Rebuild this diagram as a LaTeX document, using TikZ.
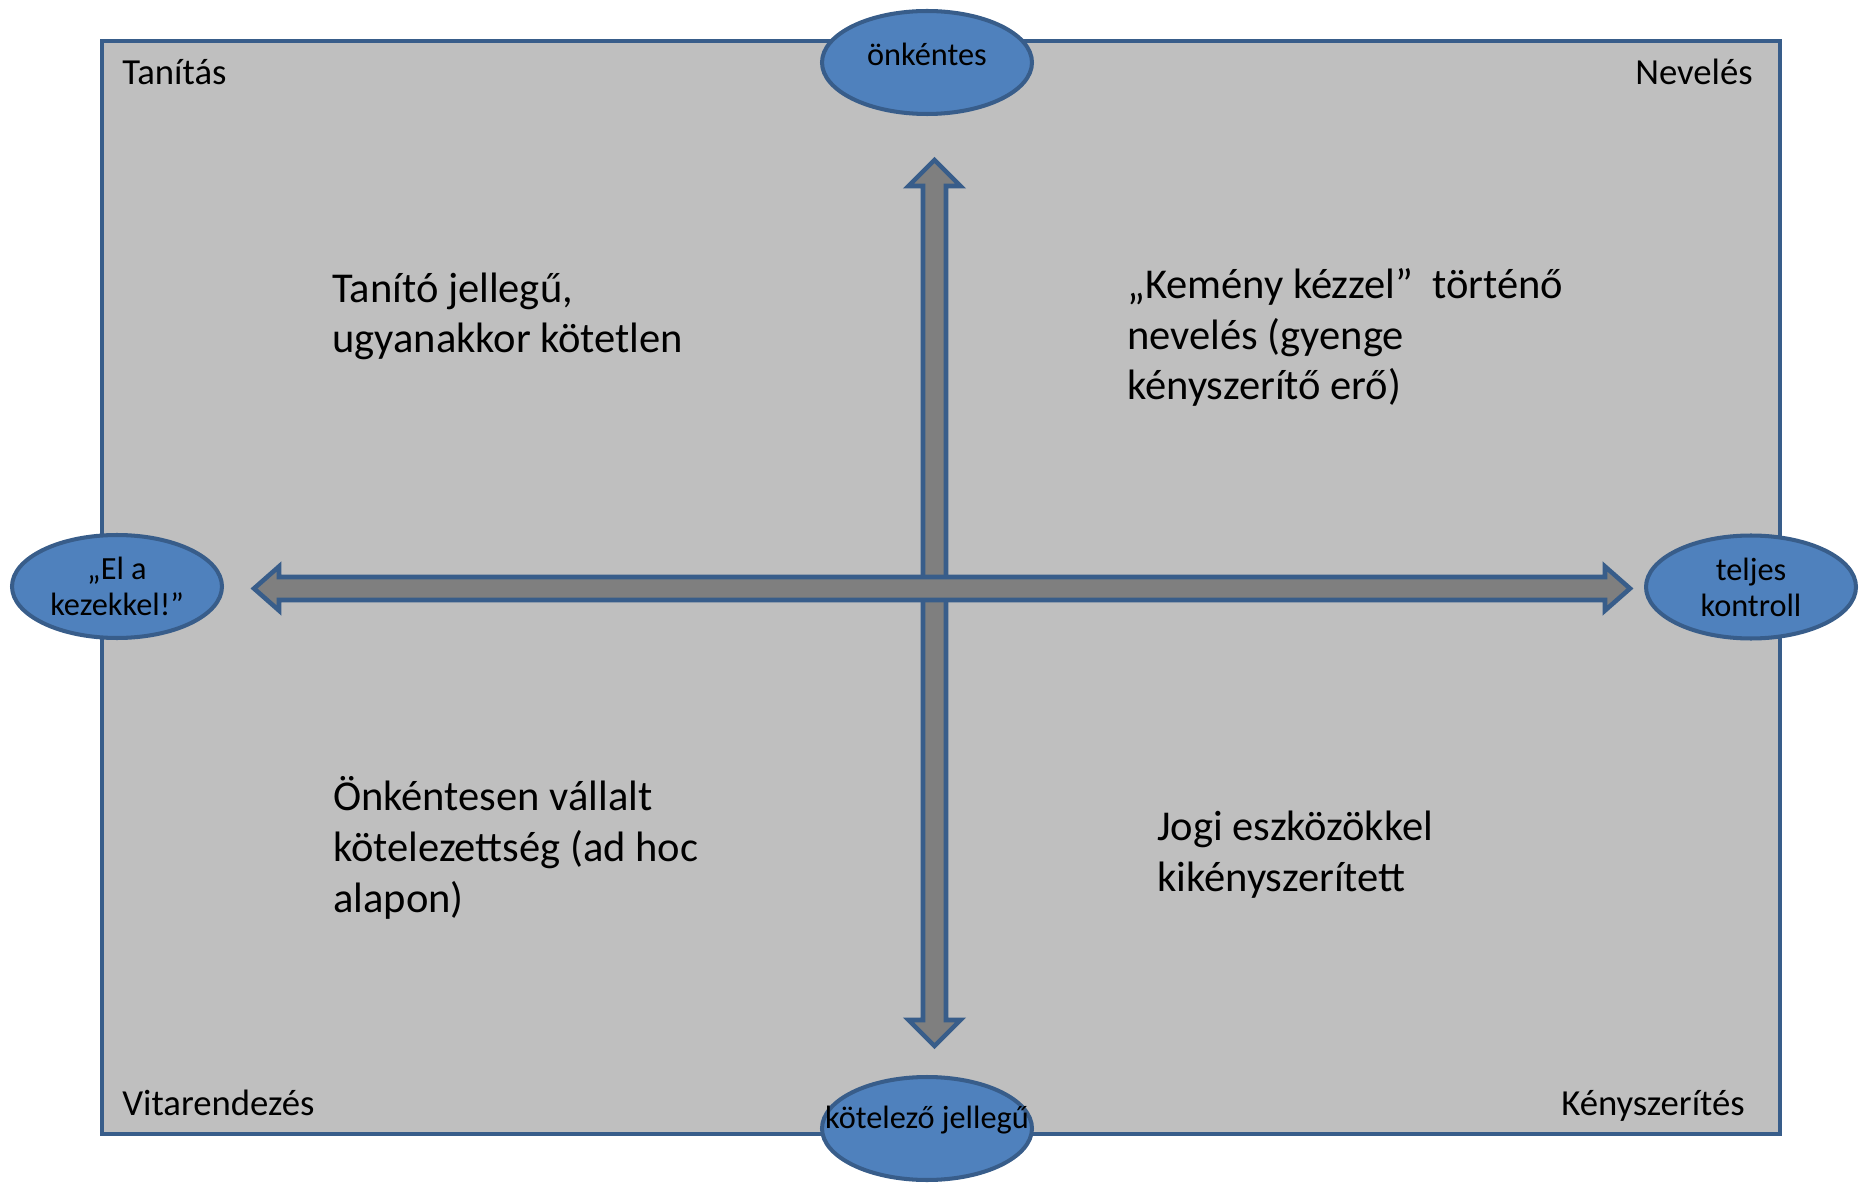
\documentclass[tikz,border=0pt]{standalone}
\usepackage{fontspec}
\setmainfont{Carlito}
\usepackage{tikz}
\usetikzlibrary{shapes.geometric, positioning}
\definecolor{framegray}{RGB}{191,191,191}
\definecolor{edgeblue}{RGB}{56,93,138}
\definecolor{ovalblue}{RGB}{79,129,189}
\definecolor{arrowgray}{RGB}{127,127,127}

\begin{document}
\begin{tikzpicture}[
    x=0.02cm, y=-0.02cm,
    oval/.style={draw=edgeblue, fill=ovalblue, line width=2.3pt, ellipse, minimum width=4.2cm, minimum height=2.06cm, inner sep=0pt},
    ovaltext/.style={font=\fontsize{18.4}{20.5}\selectfont, align=center, inner sep=0pt},
    corner/.style={font=\fontsize{20.9}{25}\selectfont, inner sep=0pt},
    quadtext/.style={font=\fontsize{24.2}{29}\selectfont, align=left, inner sep=0pt, anchor=base west},
    blockarrow/.style={draw=edgeblue, fill=arrowgray, line width=2.6pt, line join=miter}
]
    \useasboundingbox (0,0) rectangle (1874,1189);

    % frame
    \draw[draw=edgeblue, fill=framegray, line width=2.3pt] (102,41) rectangle (1780,1134);

    % corner labels
    \node[corner, anchor=base west] (tanitas) at (122,85) {Tanítás};
    \node[corner, anchor=base east] (neveles) at (1753,85) {Nevelés};
    \node[corner, anchor=base west] (vitarend) at (122,1115) {Vitarendezés};
    \node[corner, anchor=base east] (kenyszer) at (1745,1115) {Kényszerítés};

    % quadrant texts (anchored at the last baseline)
    \node[quadtext] (q1) at (332,353) {Tanító jellegű,\\ugyanakkor kötetlen};
    \node[quadtext] (q2) at (1127,400) {„Kemény kézzel”\ \ történő\\nevelés (gyenge\\kényszerítő erő)};
    \node[quadtext] (q3) at (333,912) {Önkéntesen vállalt\\kötelezettség (ad hoc\\alapon)};
    \node[quadtext] (q4) at (1157,891) {Jogi eszközökkel\\kikényszerített};

    % vertical block arrow
    \draw[blockarrow] (934.5,160) -- (960.5,186) -- (946,186) -- (946,1020) -- (960.5,1020)
        -- (934.5,1046) -- (908.5,1020) -- (923,1020) -- (923,186) -- (908.5,186) -- cycle;

    % horizontal block arrow
    \draw[blockarrow] (254,588.5) -- (279,566.5) -- (279,577) -- (1605,577) -- (1605,566.5)
        -- (1630,588.5) -- (1605,610.5) -- (1605,600) -- (279,600) -- (279,610.5) -- cycle;

    % ovals
    \node[oval] (onkentes) at (927,62.5) {};
    \node[oval] (kotelezo) at (927,1128.5) {};
    \node[oval] (elakez) at (117,586.5) {};
    \node[oval] (kontroll) at (1751,587) {};

    \node[ovaltext, anchor=base] (onkentes-t) at (927,66) {önkéntes};
    \node[ovaltext, anchor=base] (kotelezo-t) at (927,1128) {kötelező jellegű};
    \node[ovaltext] (elakez-t) at (117,586) {„El a\\kezekkel!”};
    \node[ovaltext] (kontroll-t) at (1751,587) {teljes\\kontroll};
\end{tikzpicture}
\end{document}
